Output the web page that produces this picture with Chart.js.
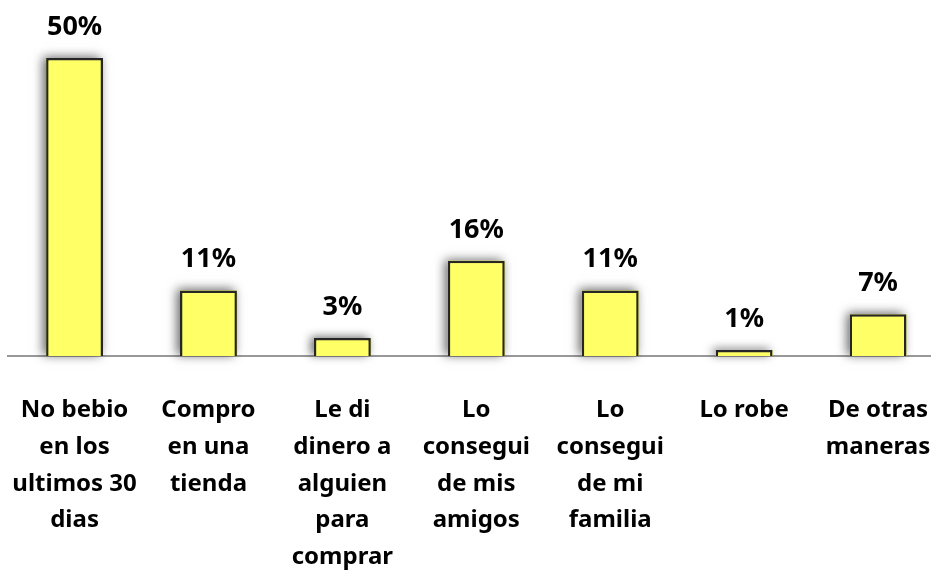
<!DOCTYPE html>
<html><head><meta charset="utf-8">
<script src="https://cdn.jsdelivr.net/npm/chart.js@4"></script>
<style>
html,body{margin:0;padding:0;background:#fff;overflow:hidden;width:931px;height:575px;}
#c{position:absolute;left:0;top:0;}
</style></head><body>
<canvas id="c" width="945" height="575" style="width:945px;height:575px"></canvas>
<script>
const categories = [
  ["No bebio","en los","ultimos 30","dias"],
  ["Compro","en una","tienda"],
  ["Le di","dinero a","alguien","para","comprar"],
  ["Lo","consegui","de mis","amigos"],
  ["Lo","consegui","de mi","familia"],
  ["Lo robe"],
  ["De otras","maneras"]
];
const values = [50, 11, 3, 16, 11, 1, 7];
const valueLabels = ["50%","11%","3%","16%","11%","1%","7%"];

const FONT = "'Noto Sans', 'DejaVu Sans', sans-serif";

const shadowPlugin = {
  id: 'shadow',
  beforeDatasetsDraw(chart){
    const ctx = chart.ctx;
    const meta = chart.getDatasetMeta(0);
    ctx.save();
    ctx.shadowColor = 'rgba(0,0,0,0.6)';
    ctx.shadowBlur = 10;
    ctx.shadowOffsetX = -3;
    ctx.shadowOffsetY = -1;
    ctx.fillStyle = '#FFFF66';
    meta.data.forEach(bar => {
      const w = bar.width;
      ctx.fillRect(bar.x - w/2, bar.y, w, bar.base - bar.y);
    });
    ctx.restore();
  }
};
const labelPlugin = {
  id: 'vlabels',
  afterDatasetsDraw(chart){
    const ctx = chart.ctx;
    const meta = chart.getDatasetMeta(0);
    ctx.save();
    ctx.fillStyle = '#000';
    ctx.font = "bold 27px " + FONT;
    ctx.textAlign = 'center';
    ctx.textBaseline = 'alphabetic';
    meta.data.forEach((bar, i) => {
      ctx.fillText(valueLabels[i], bar.x, bar.y - 23);
    });
    ctx.restore();
  }
};

new Chart(document.getElementById('c'), {
  type: 'bar',
  data: {
    labels: categories,
    datasets: [{
      data: values,
      backgroundColor: '#FFFF66',
      borderColor: '#262626',
      borderWidth: 2.5,
      barPercentage: 0.425,
      categoryPercentage: 1.0
    }]
  },
  options: {
    responsive: false,
    maintainAspectRatio: false,
    animation: false,
    layout: { padding: { top: 58, left: 7.6, right: 0, bottom: 0 } },
    plugins: { legend: { display: false }, tooltip: { enabled: false } },
    scales: {
      x: {
        grid: { display: false, drawTicks: false },
        border: { display: true, color: '#999999', width: 2 },
        afterFit(scale){
          scale.height = 219;
          scale.paddingLeft = 0;
          scale.paddingRight = 0;
        },
        ticks: {
          color: '#000',
          maxRotation: 0,
          minRotation: 0,
          autoSkip: false,
          padding: 36,
          font: { family: FONT, size: 24, weight: 'bold', lineHeight: 1.53 }
        }
      },
      y: {
        display: false,
        min: 0,
        max: 50
      }
    }
  },
  plugins: [shadowPlugin, labelPlugin]
});
</script>
</body></html>
